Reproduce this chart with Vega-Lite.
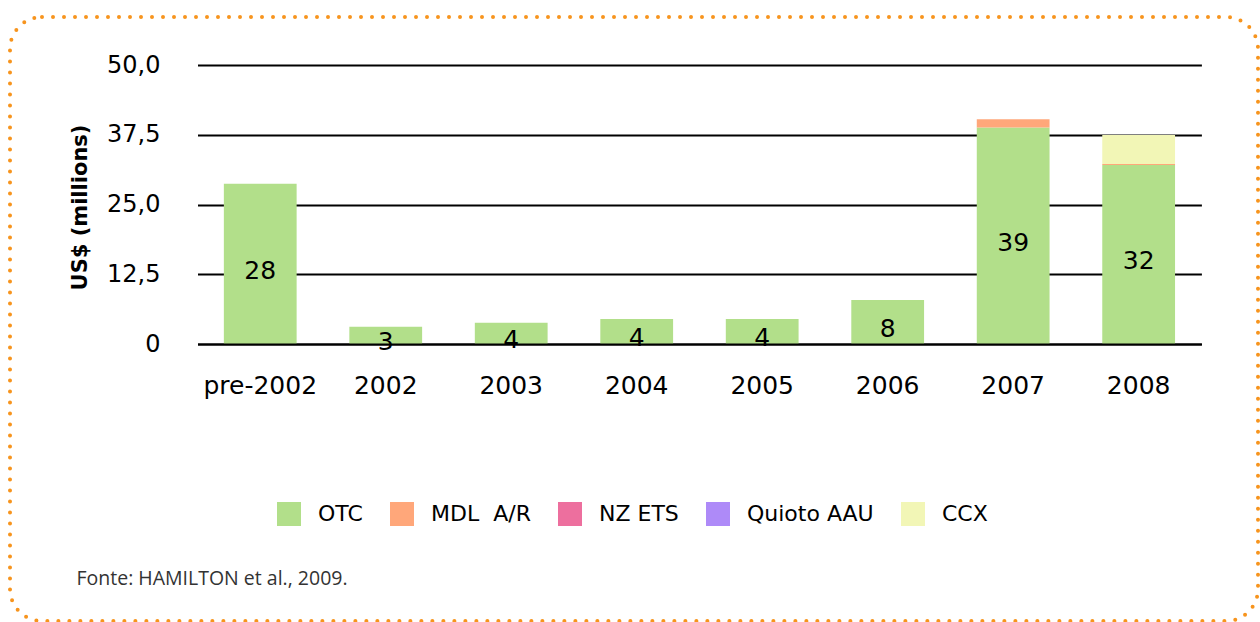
{
  "$schema": "https://vega.github.io/schema/vega-lite/v6.json",
  "width": 1248,
  "height": 604,
  "autosize": {"type": "none"},
  "padding": {"left": 10, "top": 17, "right": 2, "bottom": 1},
  "background": "white",
  "config": {
    "view": {"stroke": "#F7941D", "strokeWidth": 4, "strokeDash": [0, 11], "strokeCap": "round", "cornerRadius": 32},
    "font": "DejaVu Sans",
    "axis": {"labelFont": "DejaVu Sans", "labelColor": "black"}
  },
  "data": {
    "values": [
      {"period": "pre-2002", "market": "OTC", "value": 28.7, "ord": 1, "label": "28"},
      {"period": "2002", "market": "OTC", "value": 3.1, "ord": 1, "label": "3"},
      {"period": "2003", "market": "OTC", "value": 3.8, "ord": 1, "label": "4"},
      {"period": "2004", "market": "OTC", "value": 4.5, "ord": 1, "label": "4"},
      {"period": "2005", "market": "OTC", "value": 4.5, "ord": 1, "label": "4"},
      {"period": "2006", "market": "OTC", "value": 7.9, "ord": 1, "label": "8"},
      {"period": "2007", "market": "OTC", "value": 38.8, "ord": 1, "label": "39"},
      {"period": "2007", "market": "MDL\u00a0 A/R", "value": 1.5, "ord": 2, "label": ""},
      {"period": "2008", "market": "OTC", "value": 32.1, "ord": 1, "label": "32"},
      {"period": "2008", "market": "MDL\u00a0 A/R", "value": 0.15, "ord": 2, "label": ""},
      {"period": "2008", "market": "CCX", "value": 5.2, "ord": 5, "label": ""}
    ]
  },
  "layer": [
    {
      "mark": {"type": "bar", "strokeWidth": 0},
      "encoding": {
        "x": {
          "field": "period", "type": "nominal", "sort": null,
          "scale": {"type": "band", "range": [187.5, 1191.4], "paddingInner": 0.42, "paddingOuter": 0.21},
          "axis": {
            "orient": "bottom", "offset": -277, "domain": true, "domainColor": "black", "domainWidth": 2,
            "ticks": false, "labelAngle": 0, "labelPadding": 29, "labelFontSize": 25, "zindex": 1,
            "title": "Fonte: HAMILTON et al., 2009.", "titleX": 66, "titleY": 234, "titleAlign": "left",
            "titleAnchor": null, "titleBaseline": "middle", "titleFont": "Open Sans", "titleFontSize": 19.5,
            "titleFontWeight": "normal", "titleColor": "#333333"
          }
        },
        "y": {
          "field": "value", "type": "quantitative", "stack": "zero",
          "scale": {"domain": [0, 50], "range": [327, 48], "nice": false, "zero": true},
          "axis": {
            "values": [0, 12.5, 25, 37.5, 50],
            "labelExpr": "datum.value == 0 ? '0' : replace(format(datum.value, '.1f'), '.', ',')",
            "offset": -155, "domain": false, "ticks": false, "tickSize": 0, "labelPadding": 5, "labelFontSize": 24,
            "grid": true, "gridColor": "black", "gridWidth": 2, "gridOpacity": 1,
            "title": "US$ (millions)", "titleX": -85, "titleY": 190, "titleAngle": -90, "titleAlign": "center",
            "titleBaseline": "middle", "titleFontSize": 21, "titleFontWeight": "bold", "titleColor": "black"
          }
        },
        "color": {
          "field": "market", "type": "nominal",
          "scale": {
            "domain": ["OTC", "MDL\u00a0 A/R", "NZ ETS", "Quioto AAU", "CCX"],
            "range": ["#B2DF8A", "#FFA77A", "#ED6F9E", "#AE8AF8", "#F2F6B6"]
          },
          "legend": {
            "orient": "none", "legendX": 267, "legendY": 485, "direction": "horizontal", "columns": 5,
            "title": null, "symbolType": "square", "symbolSize": 576, "symbolStrokeWidth": 0, "symbolOpacity": 1,
            "labelFontSize": 22, "labelColor": "black", "labelOffset": 17, "columnPadding": 27, "padding": 0
          }
        },
        "order": {"field": "ord", "type": "quantitative"}
      }
    },
    {
      "transform": [{"filter": "datum.market == 'OTC'"}],
      "mark": {"type": "text", "fontSize": 25, "color": "black", "baseline": "middle", "align": "center", "dy": 7},
      "encoding": {
        "x": {"field": "period", "type": "nominal", "sort": null},
        "y": {
          "field": "value", "type": "quantitative", "stack": null,
          "scale": {"domain": [0, 100], "range": [327, 48], "nice": false, "zero": true},
          "axis": null
        },
        "text": {"field": "label"}
      }
    }
  ],
  "resolve": {"scale": {"y": "independent"}}
}
